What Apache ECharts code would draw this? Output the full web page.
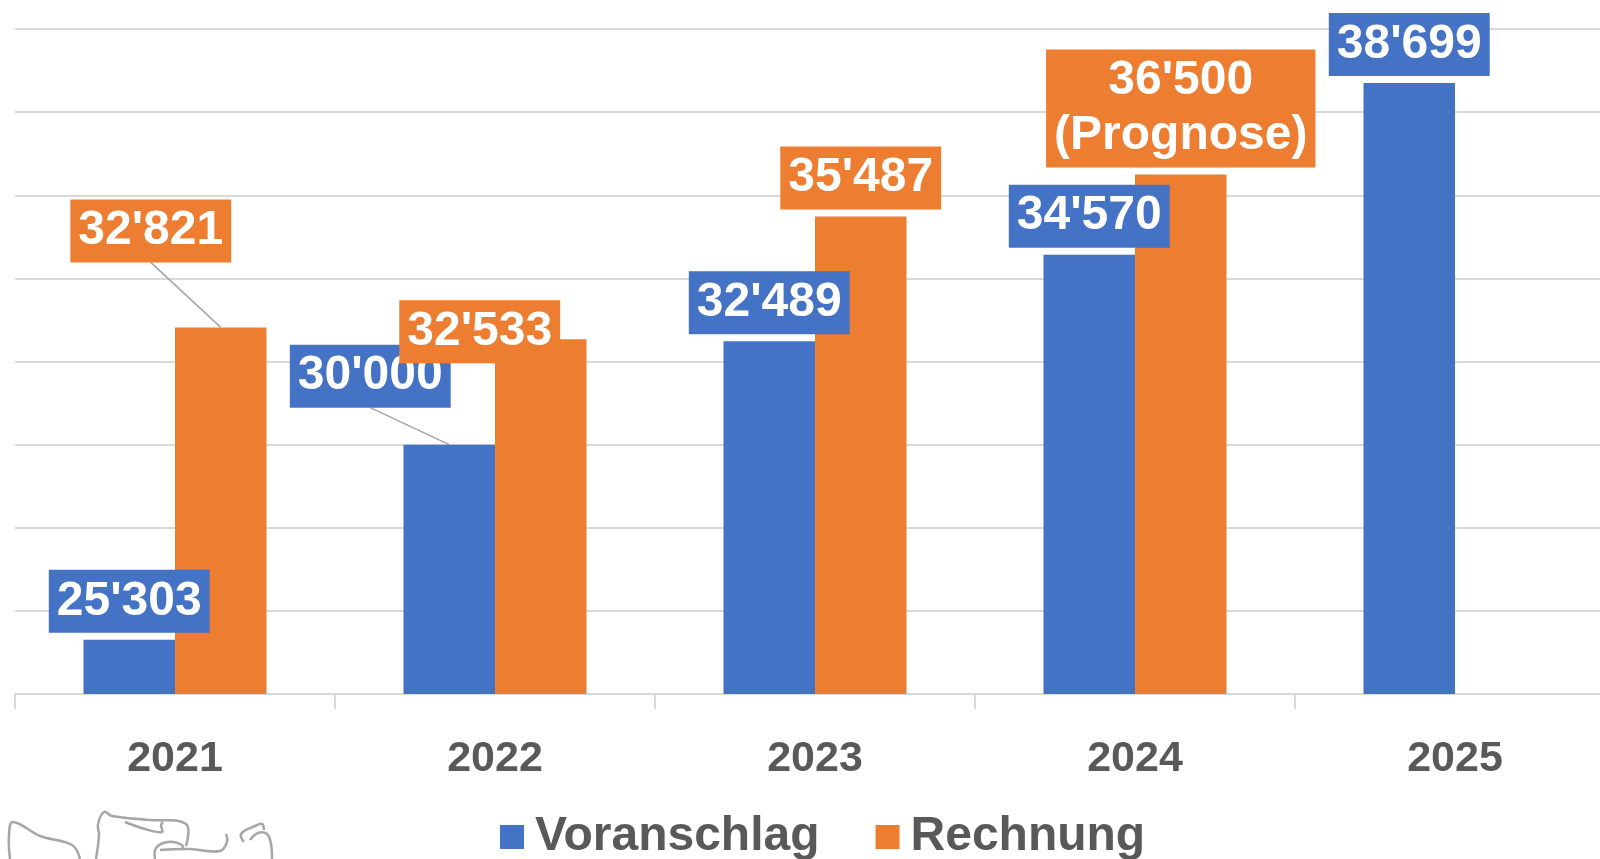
<!DOCTYPE html>
<html><head><meta charset="utf-8">
<script src="https://cdn.jsdelivr.net/npm/echarts@6/dist/echarts.min.js"></script>
<style>html,body{margin:0;padding:0;background:#fff}#c{width:1600px;height:859px}</style>
</head><body><div id="c"></div>
<script>
// ---- data ----
const categories = ['2021', '2022', '2023', '2024', '2025'];
const voranschlag = [25303, 30000, 32489, 34570, 38699];
const rechnung = [32821, 32533, 35487, 36500, null];
const rechnungNotes = ['', '', '', '(Prognose)', ''];
const seriesNames = ['Voranschlag', 'Rechnung'];
const yMin = 24000, yMax = 40000, yStep = 2000;

// ---- layout-only: label displacement [seriesIndex, dataIndex, dx, dy, leaderLine] ----
const labelMoves = [
  [1, 0, -70, -58, true],
  [0, 1, -79, -30, true],
  [1, 1, -61, 31, false]
];

const BLUE = '#4472C4', ORANGE = '#ED7D31', GRID = '#d9d9d9', TXT = '#595959';
const FONT = 'Liberation Sans, Arial, sans-serif';
const LABEL_DIST = 7;

const fmt = v => String(v).replace(/\B(?=(\d{3})+(?!\d))/g, "'");

function findMove(si, di) {
  return labelMoves.find(m => m[0] === si && m[1] === di);
}
function labelLayout(p) {
  const m = findMove(p.seriesIndex, p.dataIndex);
  return m ? { dx: m[2], dy: m[3] } : {};
}
function labelCfg(color, formatter) {
  return {
    show: true, position: 'top', distance: LABEL_DIST,
    color: '#fff', fontFamily: FONT, fontWeight: 'bold', fontSize: 48, lineHeight: 55,
    padding: [4, 8, 4, 8], backgroundColor: color, align: 'center',
    formatter: formatter
  };
}

// decorative logo sketch (bottom-left), not chart data
const logoStrokes = [
  [[10,859],[9,835],[13,822],[40,836],[72,845],[80,859]],
  [[96,859],[99,835],[98,824],[104,812],[112,816],[150,820],[186,824],[186,846]],
  [[125,822],[145,829],[162,832],[161,825],[163,822]],
  [[155,859],[156,848],[168,842],[182,845],[182,850]],
  [[160,850],[190,849],[220,851],[227,842],[226,834]],
  [[244,842],[241,834],[255,826],[262,824],[264,830]],
  [[250,840],[258,833],[267,834],[271,844],[272,859]]
];

const chart = echarts.init(document.getElementById('c'), null, { renderer: 'canvas' });
const option = {
  animation: false,
  backgroundColor: '#fff',
  grid: { left: 15, width: 1600, top: 29, height: 665, containLabel: false, outerBoundsMode: 'none' },
  legend: {
    data: seriesNames, left: 500, top: 813, icon: 'rect', padding: 0,
    itemWidth: 24, itemHeight: 24, itemGap: 56,
    textStyle: { fontFamily: FONT, fontWeight: 'bold', fontSize: 48, lineHeight: 48, color: TXT, padding: [0, 0, 0, 6] }
  },
  xAxis: {
    type: 'category', data: categories,
    axisLine: { lineStyle: { color: GRID, width: 2 } },
    axisTick: { show: true, length: 15, lineStyle: { color: GRID, width: 2 } },
    axisLabel: { margin: 44, fontFamily: FONT, fontWeight: 'bold', fontSize: 43, color: TXT }
  },
  yAxis: {
    type: 'value', min: yMin, max: yMax, interval: yStep,
    axisLabel: { show: false }, axisLine: { show: false }, axisTick: { show: false },
    splitLine: { lineStyle: { color: GRID, width: 2 } }
  },
  series: [
    {
      name: seriesNames[0], type: 'bar', data: voranschlag,
      barWidth: 91.5, barGap: '0%',
      itemStyle: { color: BLUE },
      label: labelCfg(BLUE, p => fmt(p.value)),
      labelLayout: labelLayout
    },
    {
      name: seriesNames[1], type: 'bar', data: rechnung,
      barWidth: 91.5, barGap: '0%',
      itemStyle: { color: ORANGE },
      label: labelCfg(ORANGE, p => fmt(p.value) + (rechnungNotes[p.dataIndex] ? '\n' + rechnungNotes[p.dataIndex] : '')),
      labelLayout: labelLayout
    }
  ],
  graphic: logoStrokes.map((pts, i) => ({
    id: 'logo' + i, type: 'polyline', shape: { points: pts, smooth: 0.4 },
    style: { fill: null, stroke: '#a6a6a6', lineWidth: 2.5 }, silent: true
  }))
};
chart.setOption(option);

// leader lines from bar top centre to displaced label, using the library's bar layout
function drawLeaders() {
  const model = chart.getModel();
  const lines = [];
  labelMoves.forEach((m, i) => {
    if (!m[4]) return;
    const data = model.getSeriesByIndex(m[0]).getData();
    const lay = data.getItemLayout(m[1]);
    if (!lay) return;
    const cx = lay.x + lay.width / 2;
    const top = Math.min(lay.y, lay.y + lay.height);
    lines.push({
      id: 'leader' + i, type: 'line', z: 1,
      shape: { x1: cx, y1: top, x2: cx + m[2], y2: top - LABEL_DIST + m[3] },
      style: { stroke: '#a6a6a6', lineWidth: 1.5 }, silent: true
    });
  });
  chart.setOption({ graphic: lines });
}
try { drawLeaders(); } catch (e) { console.error(e); }
</script>
</body></html>
